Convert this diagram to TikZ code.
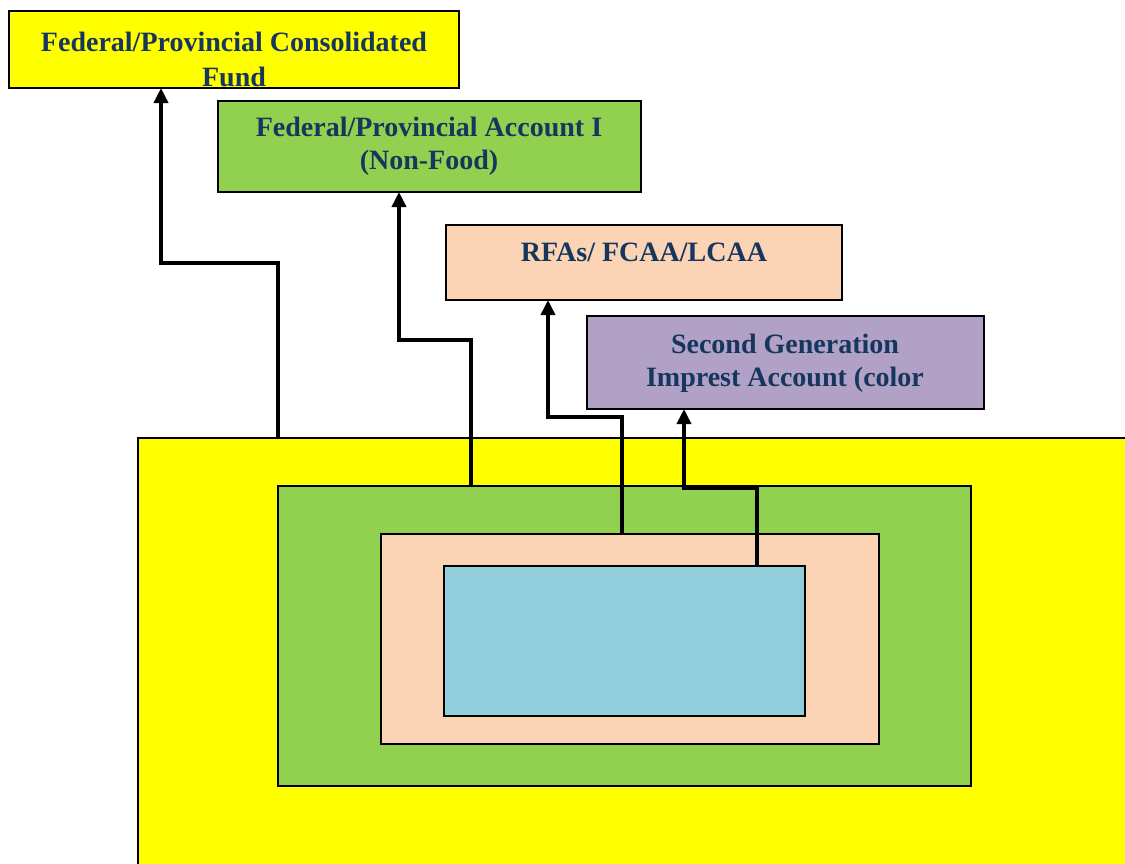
\documentclass[tikz,border=0pt]{standalone}
\usepackage{fontspec}
\setmainfont{Liberation Serif}
\usetikzlibrary{arrows.meta}
\definecolor{cyel}{RGB}{255,255,0}
\definecolor{cgrn}{RGB}{146,208,80}
\definecolor{cpch}{RGB}{250,212,180}
\definecolor{cpur}{RGB}{178,161,199}
\definecolor{cblu}{RGB}{146,205,220}
\definecolor{ctxt}{RGB}{23,54,93}
\tikzset{
  box/.style={draw=black, line width=1.5pt, inner sep=0pt, outer sep=0pt, anchor=north west},
  lbl/.style={anchor=base, align=center, text=ctxt, font=\fontsize{28}{33}\selectfont\bfseries, inner sep=0pt},
  arr/.style={line width=3.5pt, -{Triangle[length=15pt,width=14pt]}}
}
\begin{document}
\begin{tikzpicture}[x=1pt,y=-1pt]
\useasboundingbox (0,0) rectangle (1125,863);
% nested boxes
\node[box, fill=cyel, minimum width=1000pt, minimum height=450pt] (outer) at (138,438) {};
\node[box, fill=cgrn, minimum width=693pt, minimum height=300pt] (green) at (278,486) {};
\node[box, fill=cpch, minimum width=498pt, minimum height=210pt] (peach) at (381,534) {};
\node[box, fill=cblu, minimum width=361pt, minimum height=150pt] (blue) at (444,566) {};
% label boxes
\node[box, fill=cyel, minimum width=450pt, minimum height=77pt] (fund) at (9,11) {};
\node[box, fill=cgrn, minimum width=423pt, minimum height=91pt] (acc) at (218,101) {};
\node[box, fill=cpch, minimum width=396pt, minimum height=75pt] (rfa) at (446,225) {};
\node[box, fill=cpur, minimum width=397pt, minimum height=93pt] (sgi) at (587,316) {};
% texts (clipped to their boxes); anchor = baseline of the last line
\begin{scope}
\clip (fund.north west) rectangle (fund.south east);
\node[lbl, font=\fontsize{28}{35}\selectfont\bfseries] (tfund) at (234,86) {Federal/Provincial Consolidated\\Fund};
\end{scope}
\node[lbl] (tacc) at (429,169) {Federal/Provincial Account I\\(Non-Food)};
\node[lbl] (trfa) at (644,261) {RFAs/ FCAA/LCAA};
\begin{scope}
\clip (sgi.north west) rectangle (sgi.south east);
\node[lbl] (tsgi) at (785,386) {Second Generation\\Imprest Account (color};
\end{scope}
% connectors
\coordinate (k1a) at (278,263); \coordinate (k1b) at (161,263);
\coordinate (k2a) at (471,340); \coordinate (k2b) at (399,340);
\coordinate (k3a) at (622,417); \coordinate (k3b) at (548,417);
\coordinate (k4a) at (757,488); \coordinate (k4b) at (684,488);
\draw[arr] (outer.north -| k1a) -- (k1a) -- (k1b) -- (fund.south -| k1b);
\draw[arr] (green.north -| k2a) -- (k2a) -- (k2b) -- (acc.south -| k2b);
\draw[arr] (peach.north -| k3a) -- (k3a) -- (k3b) -- (rfa.south -| k3b);
\draw[arr] (blue.north -| k4a) -- (k4a) -- (k4b) -- (sgi.south -| k4b);
\end{tikzpicture}
\end{document}
